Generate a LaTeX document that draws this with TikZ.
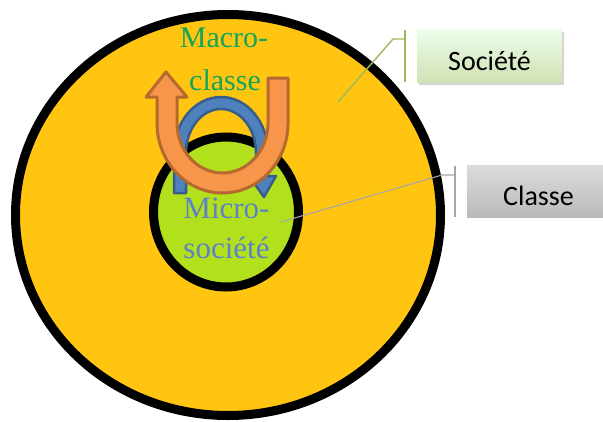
\documentclass[tikz,border=0pt]{standalone}
\usepackage{fontspec}
\setmainfont{Liberation Serif}
\newfontfamily\calib{Carlito}
\usetikzlibrary{shapes.geometric,shadows}
\definecolor{gold}{HTML}{FFC511}
\definecolor{lime}{HTML}{B3E01C}
\definecolor{macrog}{HTML}{14A45A}
\definecolor{microb}{HTML}{5B82C9}
\definecolor{orfill}{HTML}{F7964A}
\definecolor{ordraw}{HTML}{B5692E}
\definecolor{blfill}{HTML}{4F81BD}
\definecolor{bldraw}{HTML}{385D8A}
\definecolor{callg}{HTML}{9BBB59}
\definecolor{callgray}{HTML}{A6A6A6}
\tikzset{
  ring/.style={ellipse, draw=black, line width=9pt, inner sep=0pt},
  bigtxt/.style={font=\fontsize{30}{30}\selectfont, anchor=base, inner sep=0pt},
  labbox/.style={rectangle, inner sep=0pt, font=\calib\fontsize{28}{28}\selectfont},
  calline/.style={line width=1.4pt},
}
\begin{document}
\begin{tikzpicture}[x=1pt,y=-1pt]
\useasboundingbox (0,0) rectangle (603,421);
% circles
\node[ring, fill=gold, minimum width=425pt, minimum height=401pt] (societe) at (228,215) {};
\node[ring, fill=lime, minimum width=145pt, minimum height=150pt] (classe) at (226,212) {};
% blue arch arrow
\draw[fill=blfill, draw=bldraw, line width=2.5pt, line join=round]
  (174,193) -- (174,153) .. controls (174,122.1) and (195,97) .. (221,97)
  .. controls (247,97) and (268,122.1) .. (268,153) -- (268,176) -- (276,176)
  -- (264,197) -- (249,176) -- (256,176) -- (256,153)
  .. controls (256,128.7) and (240.3,109) .. (221,109)
  .. controls (201.7,109) and (186,128.7) .. (186,153) -- (186,193) -- cycle;
% orange U arrow
\draw[fill=orfill, draw=ordraw, line width=3pt, line join=round]
  (288,78) -- (288,123) .. controls (288,161.7) and (258.7,193) .. (222.5,193)
  .. controls (186.3,193) and (157,161.7) .. (157,123) -- (157,97) -- (146,97)
  -- (166,72) -- (187,97) -- (177,97) -- (177,123)
  .. controls (177,150.6) and (197.4,173) .. (222.5,173)
  .. controls (247.6,173) and (268,150.6) .. (268,123) -- (268,78) -- cycle;
% texts
\node[bigtxt, text=macrog] (macro1) at (224,47) {Macro-};
\node[bigtxt, text=macrog] (macro2) at (225,90) {classe};
\node[bigtxt, text=microb, font=\fontsize{31}{31}\selectfont] (micro1) at (226.5,218) {Micro-};
\node[bigtxt, text=microb, font=\fontsize{31}{31}\selectfont] (micro2) at (226.5,258) {société};
% Société callout
\node[labbox, minimum width=145pt, minimum height=53pt, top color=green!8!white, bottom color=callg!45!white,
  drop shadow={shadow xshift=1.5pt, shadow yshift=-2.5pt, opacity=0.35, fill=gray}] (socbox) at (489.5,55.5) {};
\node[labbox, anchor=base] (soctxt) at (489.5,70) {Société};
\coordinate (sbtop) at (405,30);
\coordinate (sbbot) at (405,82);
\coordinate (sbjoin) at (405,39);
\coordinate (sbk) at (393,39);
\coordinate (sbend) at (338,102);
\draw[calline, draw=callg] (sbtop) -- (sbbot);
\draw[calline, draw=callg] (sbjoin) -- (sbk) -- (sbend);
% Classe callout
\node[labbox, minimum width=136pt, minimum height=52pt, top color=black!14, bottom color=black!27] (clabox) at (535,191) {};
\node[labbox, anchor=base] (clatxt) at (538.5,205) {Classe};
\coordinate (cbtop) at (455,166);
\coordinate (cbbot) at (455,217);
\coordinate (cbjoin) at (455,175);
\coordinate (cbk) at (442,175);
\coordinate (cbend) at (281,222);
\draw[calline, draw=callgray] (cbtop) -- (cbbot);
\draw[calline, draw=callgray, line width=1.1pt] (cbjoin) -- (cbk) -- (cbend);
\end{tikzpicture}
\end{document}
